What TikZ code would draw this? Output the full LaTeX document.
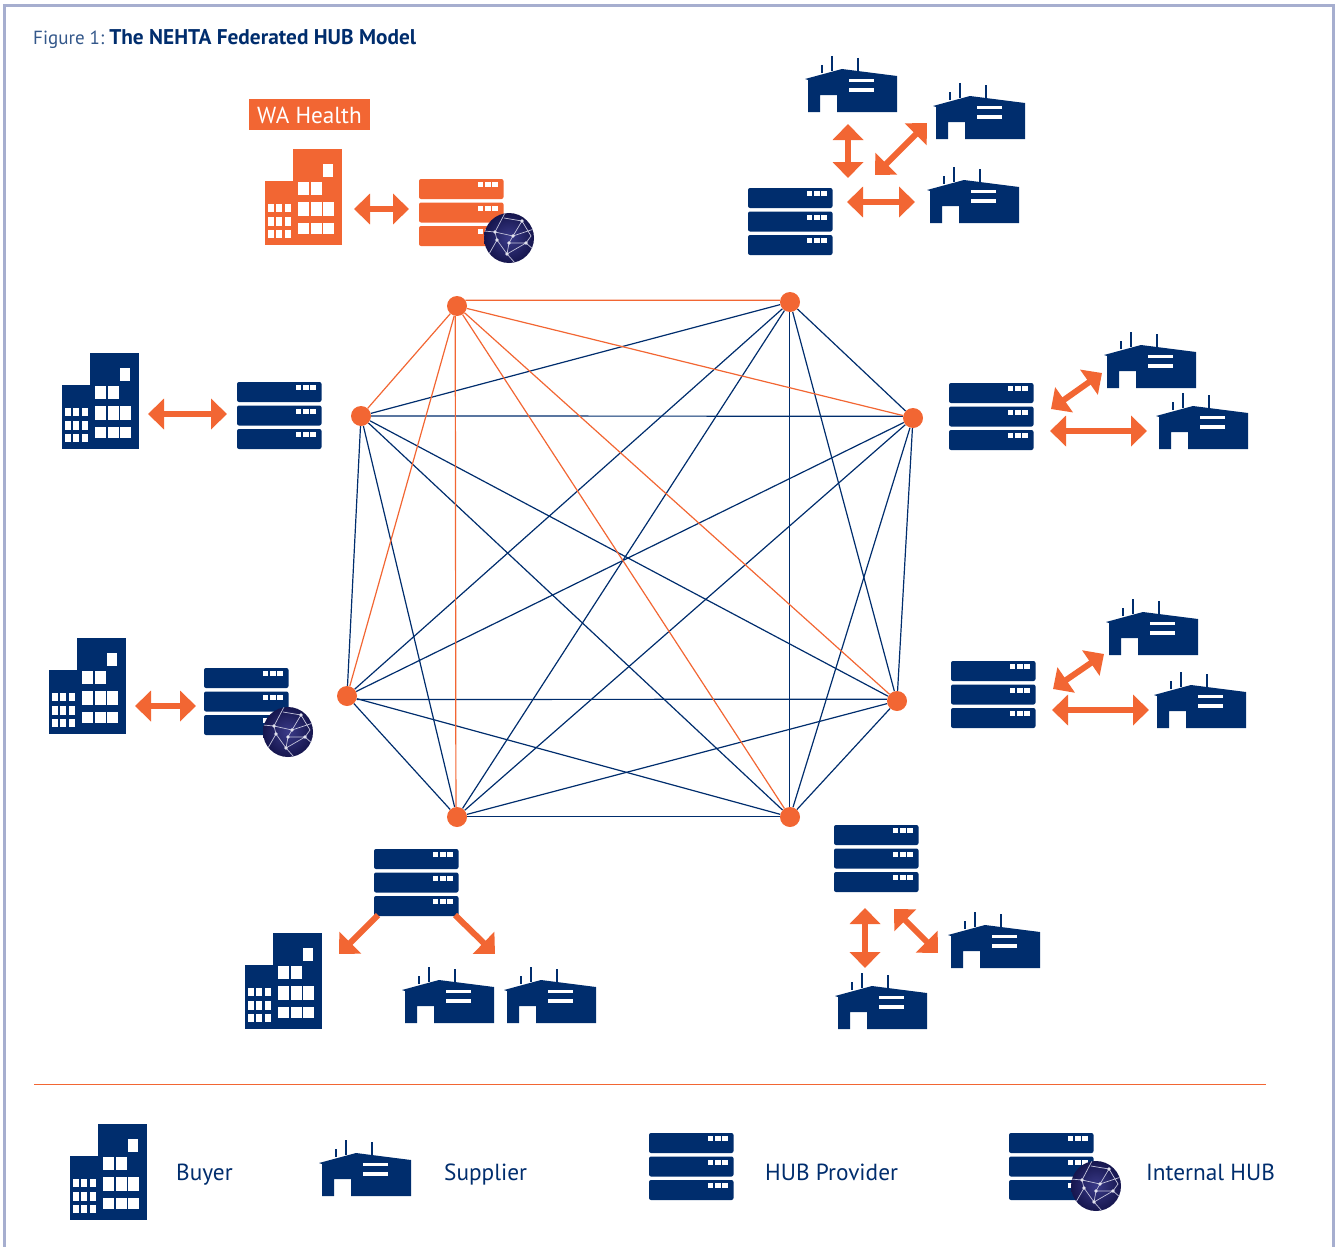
\documentclass[tikz,border=0pt]{standalone}
\usepackage{fontspec}
\setmainfont{PT Sans}
\usetikzlibrary{arrows.meta,backgrounds}
\definecolor{navy}{HTML}{002D6D}
\definecolor{hor}{HTML}{F26633}
\definecolor{framecol}{HTML}{A6AECF}
\definecolor{globein}{HTML}{3A3A88}
\definecolor{globeout}{HTML}{16164E}
\tikzset{
  hubdot/.style={circle,fill=hor,minimum size=20pt,inner sep=0pt},
  navyline/.style={navy,line width=1.2pt},
  horline/.style={hor,line width=1.2pt},
  dblarrow/.style={hor,line width=6pt,{Triangle[length=16pt,width=30pt]}-{Triangle[length=16pt,width=30pt]}},
  onearrow/.style={hor,line width=6pt,-{Triangle[length=16pt,width=30pt]}},
  legendtext/.style={navy,anchor=base west,inner sep=0pt,font=\fontsize{23.3}{28}\selectfont},
  pics/buyer/.style={code={
    \fill[#1] (0,32) rectangle (28,96);
    \fill[#1] (28,0) rectangle (77,96);
    \fill[white] (58,15) rectangle (68,28);
    \foreach \x in {33,46} {\fill[white] (\x,33) rectangle +(10.5,13);}
    \foreach \x in {33,46,58} {\fill[white] (\x,53) rectangle +(10.5,14);
      \fill[white] (\x,74) rectangle +(10.5,11);}
    \foreach \x in {3,11.3,20} {\fill[white] (\x,55) rectangle +(6,8);
      \fill[white] (\x,68) rectangle +(6,9);
      \fill[white] (\x,81) rectangle +(6,8);}
  }},
  pics/supplier/.style={code={
    \fill[#1] (0,23) -- (37,13) -- (92,20) -- (92,56) -- (32,56) -- (32,39) -- (15,39) -- (15,56) -- (3,56) -- (3,24) -- cycle;
    \draw[#1,line width=1.6pt] (17,9) -- (17,17);
    \draw[#1,line width=1.6pt] (27,0) -- (27,15);
    \draw[#1,line width=1.6pt] (53,2) -- (53,17);
    \fill[white] (44,23) rectangle (69,26);
    \fill[white] (44,32) rectangle (69,36);
  }},
  pics/hubstack/.style={code={
    \foreach \y in {0,23.5,47} {
      \fill[#1,rounded corners=2pt] (0,\y) rectangle +(84.5,20);
      \foreach \x in {58.5,66,73} {\fill[white] (\x,\y+3) rectangle +(5.5,5);}
    }
  }},
  pics/globe/.style={code={
    \shade[inner color=globein,outer color=globeout] (0,0) circle (25pt);
    \begin{scope}
      \clip (0,0) circle (25pt);
      \draw[white!70!globein,line width=0.7pt] (-25,-7) -- (-14,-6) -- (4,-2) -- (25,-9)
        (-14,-6) -- (-12,2) -- (-2,16) -- (17,5) -- (0,5) -- (4,-2) -- (13,-17) -- (22,-2) -- (17,5)
        (-12,2) -- (-20,16) (0,5) -- (-2,16) -- (6,25) (-14,-6) -- (-4,-25) (13,-17) -- (-5,-20)
        (17,5) -- (25,12);
    \end{scope}
    \foreach \x/\y in {-14/-6,4/-2,0/5,17/5,-2/16,13/-17,-12/2} {\fill[white!85!globein] (\x,\y) circle (1.8pt);}
  }},
}
\begin{document}
\begin{tikzpicture}[x=1pt,y=-1pt]
\useasboundingbox (0,0) rectangle (1336,1247);
\draw[framecol,line width=3pt] (4,1247) -- (4,5.5) -- (1333,5.5) -- (1333,1247);

\node[anchor=base west,inner sep=0pt,font=\fontsize{21.3}{25}\selectfont] (title) at (33,44.5)
  {{\fontsize{19}{25}\selectfont\color{navy!80}Figure 1:}\hspace{5pt}\textcolor{navy}{\textbf{The NEHTA Federated HUB Model}}};

% mesh of hubs
\node[hubdot] (n1) at (457,306) {};
\node[hubdot] (n2) at (790,302) {};
\node[hubdot] (n3) at (913,418) {};
\node[hubdot] (n4) at (897,701) {};
\node[hubdot] (n5) at (790,817) {};
\node[hubdot] (n6) at (457,817) {};
\node[hubdot] (n7) at (347,696) {};
\node[hubdot] (n8) at (361,416) {};
\begin{pgfonlayer}{background}
\foreach \a/\b in {n2/n3,n2/n4,n2.-93/n5.93,n2/n6,n2/n7,n2/n8,
  n3/n4,n3/n5,n3/n6,n3/n7,n3.170/n8,
  n4/n5,n4/n6,n4.170/n7.-20,n4/n8,
  n5.175/n6.5,n5/n7,n5/n8,
  n6/n7,n6/n8,n7/n8} {\draw[navyline] (\a) -- (\b);}
\foreach \a/\b in {n1.35/n2.170,n1/n3,n1/n4,n1/n5,n1.-100/n6.96,n1/n7,n1/n8} {\draw[horline] (\a) -- (\b);}
\end{pgfonlayer}

% WA Health
\node[fill=hor,text=white,minimum width=121pt,minimum height=31pt,inner sep=0pt,text depth=0pt,font=\fontsize{23.2}{28}\selectfont] (wa) at (309.5,114.5) {\raisebox{-1.5pt}{WA Health}};
\pic at (265,149) {buyer=hor};
\pic at (419,179) {hubstack=hor};
\pic at (509,238) {globe};

% buyers
\foreach \x/\y in {62/353,49/638,245/933,70/1124} {\pic at (\x,\y) {buyer=navy};}

% suppliers
\foreach \x/\y in {805/56,933/83,927/167,1104/332,1156/393,1106/599,1154/672,402/967,504/967,948/912,835/973,319/1140} {\pic at (\x,\y) {supplier=navy};}

% hub providers
\foreach \x/\y in {748/188,237/382,949/383,951/661,204/668,374/849,834/825,649/1133,1009/1133} {\pic at (\x,\y) {hubstack=navy};}
\pic at (288,732) {globe};
\pic at (1096,1186) {globe};

% arrows
\foreach \n/\xa/\ya/\xb/\yb in {wa/354/209/409/209,ta/848/124/848/178,tb/875/175/927/123,tc/847/202/915/202,
  la/148/414/227/414,ra/1051/409/1102/373,rb/1050/431/1147/431,sa/1053/689/1104/654,sb/1052/710/1149/710,
  lb/135/706/196/706,ba/865/908/865/968,bb/894/909/938/953} {
  \coordinate (\n s) at (\xa,\ya);
  \coordinate (\n e) at (\xb,\yb);
  \draw[dblarrow] (\n s) -- (\n e);
}
\foreach \n/\xa/\ya/\xb/\yb in {da/378/915/339/954,db/455/915/495/954} {
  \coordinate (\n s) at (\xa,\ya);
  \coordinate (\n e) at (\xb,\yb);
  \draw[onearrow] (\n s) -- (\n e);
}

% legend
\coordinate (ruleS) at (34,1084.5);
\coordinate (ruleE) at (1266,1084.5);
\draw[hor,line width=1.2pt] (ruleS) -- (ruleE);
\node[legendtext] (lbuyer) at (176,1180) {Buyer};
\node[legendtext] (lsupplier) at (444,1180) {Supplier};
\node[legendtext] (lhub) at (765,1180) {HUB Provider};
\node[legendtext] (linternal) at (1146,1180) {Internal HUB};
\end{tikzpicture}
\end{document}
